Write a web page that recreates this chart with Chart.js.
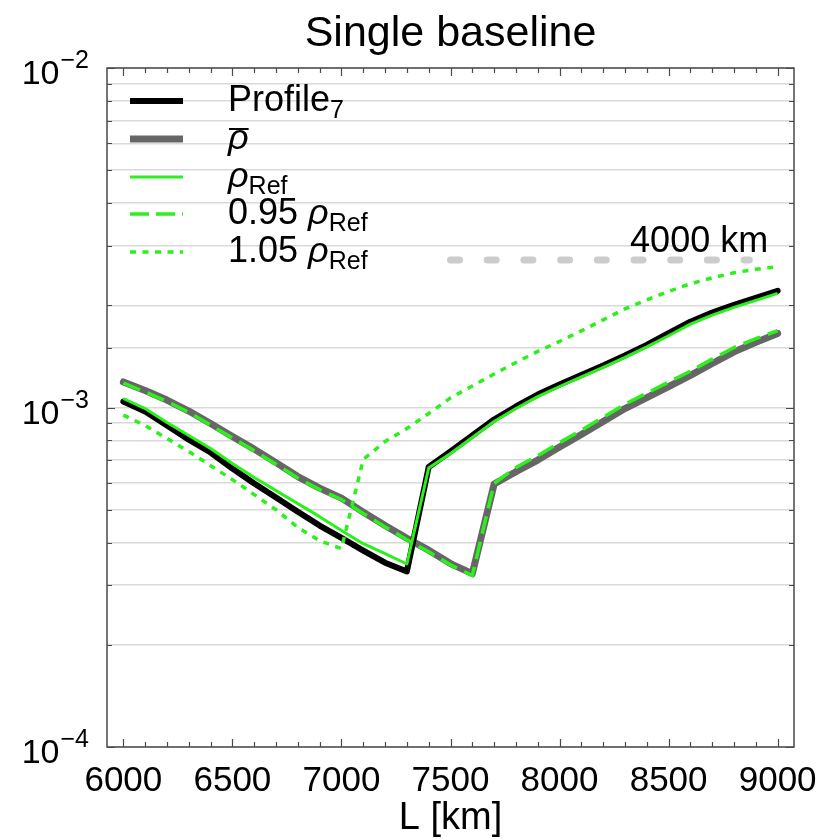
<!DOCTYPE html>
<html>
<head>
<meta charset="utf-8">
<script src="https://cdn.jsdelivr.net/npm/chart.js@4.4.0/dist/chart.umd.min.js"></script>
<style>
  body { margin: 0; background: #fff; }
  canvas { display: block; }
</style>
</head>
<body>
<canvas id="graphCanvas" width="821" height="839"></canvas>
<script>
// baseline length [km]
const lKm = [6000, 6100, 6200, 6300, 6400, 6500, 6600, 6700, 6800, 6900, 7000,
             7100, 7200, 7300, 7400, 7500, 7600, 7700, 7800, 7900, 8000,
             8100, 8200, 8300, 8400, 8500, 8600, 8700, 8800, 8900, 9000];

const profile7 = [1.041e-3, 9.73e-4, 8.85e-4, 8.04e-4, 7.37e-4, 6.61e-4, 5.97e-4, 5.43e-4, 4.93e-4, 4.49e-4, 4.13e-4,
                  3.79e-4, 3.49e-4, 3.29e-4, 6.68e-4, 7.42e-4, 8.27e-4, 9.22e-4, 1.007e-3, 1.092e-3, 1.169e-3,
                  1.247e-3, 1.33e-3, 1.423e-3, 1.529e-3, 1.655e-3, 1.79e-3, 1.905e-3, 2.006e-3, 2.104e-3, 2.207e-3];

const rhoMean = [1.189e-3, 1.122e-3, 1.052e-3, 9.76e-4, 8.97e-4, 8.21e-4, 7.54e-4, 6.88e-4, 6.26e-4, 5.79e-4, 5.41e-4,
                 4.92e-4, 4.49e-4, 4.12e-4, 3.80e-4, 3.47e-4, 3.24e-4, 5.95e-4, 6.47e-4, 7.0e-4, 7.65e-4,
                 8.33e-4, 9.09e-4, 9.93e-4, 1.07e-3, 1.153e-3, 1.243e-3, 1.348e-3, 1.458e-3, 1.555e-3, 1.653e-3];

const rhoRef = [1.063e-3, 9.93e-4, 9.03e-4, 8.27e-4, 7.57e-4, 6.84e-4, 6.22e-4, 5.69e-4, 5.21e-4, 4.77e-4, 4.34e-4,
                3.97e-4, 3.71e-4, 3.46e-4, 6.63e-4, 7.32e-4, 8.16e-4, 9.09e-4, 9.93e-4, 1.077e-3, 1.153e-3,
                1.23e-3, 1.312e-3, 1.404e-3, 1.508e-3, 1.627e-3, 1.76e-3, 1.872e-3, 1.972e-3, 2.068e-3, 2.169e-3];

const rho095 = [1.18e-3, 1.112e-3, 1.042e-3, 9.67e-4, 8.88e-4, 8.13e-4, 7.46e-4, 6.81e-4, 6.2e-4, 5.73e-4, 5.36e-4,
                4.87e-4, 4.45e-4, 4.08e-4, 3.76e-4, 3.44e-4, 3.2e-4, 5.98e-4, 6.66e-4, 7.21e-4, 7.88e-4,
                8.58e-4, 9.36e-4, 1.023e-3, 1.102e-3, 1.188e-3, 1.28e-3, 1.388e-3, 1.502e-3, 1.595e-3, 1.685e-3];

const rho105 = [9.5e-4, 8.85e-4, 8.1e-4, 7.42e-4, 6.74e-4, 6.13e-4, 5.54e-4, 5.0e-4, 4.43e-4, 4.05e-4, 3.84e-4,
                7.03e-4, 7.94e-4, 8.67e-4, 9.6e-4, 1.067e-3, 1.157e-3, 1.255e-3, 1.357e-3, 1.463e-3, 1.565e-3,
                1.682e-3, 1.812e-3, 1.952e-3, 2.076e-3, 2.199e-3, 2.314e-3, 2.41e-3, 2.494e-3, 2.554e-3, 2.6e-3];

// "4000 km" reference marker
const refLineX = [7500, 8870];
const refLineY = [2.72e-3, 2.72e-3];
const refLabel = '4000 km';
const refLabelX = 8640;

const xTickLabels = [6000, 6500, 7000, 7500, 8000, 8500, 9000];
const yTickExps = [-4, -3, -2];

const FONT = '"Liberation Sans", Arial, Helvetica, sans-serif';
const GREEN = '#2cf01c';

function pts(xs, ys) {
    return xs.map((x, i) => ({x: x, y: ys[i]}));
}

// draw a run of text pieces (for sub/superscripts), returns end x
function drawParts(ctx, x, y, parts) {
    parts.forEach(p => {
        ctx.font = (p.italic ? 'italic ' : '') + p.size + 'px ' + FONT;
        ctx.fillText(p.t, x, y + (p.dy || 0));
        const w = ctx.measureText(p.t).width;
        if (p.bar) {
            ctx.fillRect(x + 1, y - 21, w - 1, 2);
        }
        x += w;
    });
    return x;
}

const legendRows = [
    {parts: [{t: 'Profile', size: 36}, {t: '7', size: 25, dy: 7}], color: '#000', width: 6, dash: []},
    {parts: [{t: 'ρ', size: 36, italic: true, bar: true}], color: '#666666', width: 7, dash: []},
    {parts: [{t: 'ρ', size: 36, italic: true}, {t: 'Ref', size: 25, dy: 7}], color: GREEN, width: 3, dash: []},
    {parts: [{t: '0.95 ', size: 36}, {t: 'ρ', size: 36, italic: true}, {t: 'Ref', size: 25, dy: 7}], color: GREEN, width: 3.5, dash: [19, 7]},
    {parts: [{t: '1.05 ', size: 36}, {t: 'ρ', size: 36, italic: true}, {t: 'Ref', size: 25, dy: 7}], color: GREEN, width: 3.5, dash: [6, 6.5]}
];

const decorPlugin = {
    id: 'decor',
    afterDraw(chart) {
        const ctx = chart.ctx;
        const a = chart.chartArea;
        const xs = chart.scales.x;
        const ys = chart.scales.y;
        ctx.save();

        // box
        ctx.strokeStyle = '#4a4a4a';
        ctx.lineWidth = 1.5;
        ctx.setLineDash([]);
        ctx.strokeRect(a.left, a.top, a.right - a.left, a.bottom - a.top);

        // inward ticks on x (top and bottom)
        ctx.lineWidth = 1.2;
        for (let v = 6000; v <= 9000; v += 100) {
            const px = Math.round(xs.getPixelForValue(v)) + 0.5;
            const len = v % 500 === 0 ? 8 : 5;
            ctx.beginPath();
            ctx.moveTo(px, a.bottom); ctx.lineTo(px, a.bottom - len);
            ctx.moveTo(px, a.top); ctx.lineTo(px, a.top + len);
            ctx.stroke();
        }
        // inward ticks on y (left and right)
        ys.ticks.forEach(t => {
            const py = Math.round(ys.getPixelForValue(t.value)) + 0.5;
            const lg = Math.log10(t.value);
            const len = Math.abs(lg - Math.round(lg)) < 1e-6 ? 8 : 5;
            ctx.beginPath();
            ctx.moveTo(a.left, py); ctx.lineTo(a.left + len, py);
            ctx.moveTo(a.right, py); ctx.lineTo(a.right - len, py);
            ctx.stroke();
        });

        ctx.fillStyle = '#000';
        // x tick labels
        ctx.textAlign = 'center';
        ctx.textBaseline = 'alphabetic';
        ctx.font = '35px ' + FONT;
        xTickLabels.forEach(v => {
            ctx.fillText(String(v), xs.getPixelForValue(v), 791);
        });

        // y tick labels 10^n
        ctx.textAlign = 'left';
        yTickExps.forEach(e => {
            const py = ys.getPixelForValue(Math.pow(10, e));
            ctx.font = '25px ' + FONT;
            const sup = '\u2212' + Math.abs(e);
            const sw = ctx.measureText(sup).width;
            ctx.font = '34px ' + FONT;
            const bw = ctx.measureText('10').width;
            const right = 89;
            ctx.fillText('10', right - sw - bw - 1, py + 16);
            ctx.font = '25px ' + FONT;
            ctx.fillText(sup, right - sw, py);
        });

        // title and x axis title
        ctx.textAlign = 'center';
        ctx.font = '43px ' + FONT;
        ctx.fillText('Single baseline', (a.left + a.right) / 2, 46);
        ctx.font = '38px ' + FONT;
        ctx.fillText('L [km]', (a.left + a.right) / 2, 829);

        // reference label
        ctx.font = '36px ' + FONT;
        ctx.fillText(refLabel, xs.getPixelForValue(refLabelX), ys.getPixelForValue(refLineY[0]) - 8);

        // legend
        ctx.textAlign = 'left';
        const rowY = [101, 139, 177, 214, 252];
        legendRows.forEach((r, i) => {
            ctx.strokeStyle = r.color;
            ctx.lineWidth = r.width;
            ctx.setLineDash(r.dash);
            ctx.lineCap = 'butt';
            ctx.beginPath();
            ctx.moveTo(130, rowY[i]);
            ctx.lineTo(183, rowY[i]);
            ctx.stroke();
            ctx.setLineDash([]);
            ctx.fillStyle = '#000';
            drawParts(ctx, 228, rowY[i] + 10, r.parts);
        });

        ctx.restore();
    }
};

let chart = null;

function initChart() {
    const ctx = document.getElementById('graphCanvas').getContext('2d');

    chart = new Chart(ctx, {
        type: 'line',
        data: {
            datasets: [{
                label: 'Profile7',
                data: pts(lKm, profile7),
                borderColor: '#000000',
                borderWidth: 6,
                borderJoinStyle: 'round',
                borderCapStyle: 'round',
                order: 3
            }, {
                label: 'rho mean',
                data: pts(lKm, rhoMean),
                borderColor: '#666666',
                borderWidth: 7,
                borderJoinStyle: 'round',
                borderCapStyle: 'round',
                order: 4
            }, {
                label: 'rho Ref',
                data: pts(lKm, rhoRef),
                borderColor: GREEN,
                borderWidth: 3,
                borderJoinStyle: 'round',
                order: 2
            }, {
                label: '0.95 rho Ref',
                data: pts(lKm, rho095),
                borderColor: GREEN,
                borderWidth: 3.5,
                borderDash: [18, 8],
                order: 1
            }, {
                label: '1.05 rho Ref',
                data: pts(lKm, rho105),
                borderColor: GREEN,
                borderWidth: 3.5,
                borderDash: [6, 6.5],
                order: 0
            }, {
                label: '4000 km',
                data: pts(refLineX, refLineY),
                borderColor: '#cccccc',
                borderWidth: 7,
                borderCapStyle: 'round',
                borderDash: [9, 27.7],
                order: 5
            }]
        },
        options: {
            responsive: false,
            animation: false,
            layout: {
                padding: {left: 107, right: 27, top: 68, bottom: 92}
            },
            elements: {
                point: {radius: 0},
                line: {tension: 0, fill: false}
            },
            scales: {
                x: {
                    type: 'linear',
                    min: 5925,
                    max: 9075,
                    display: false
                },
                y: {
                    type: 'logarithmic',
                    min: 1e-4,
                    max: 1e-2,
                    ticks: {display: false},
                    border: {display: false},
                    grid: {
                        color: '#d9d9d9',
                        lineWidth: 1.5,
                        drawTicks: false
                    }
                }
            },
            plugins: {
                legend: {display: false},
                tooltip: {enabled: false}
            }
        },
        plugins: [decorPlugin]
    });
}

document.addEventListener('DOMContentLoaded', function() {
    initChart();
});
</script>
</body>
</html>
